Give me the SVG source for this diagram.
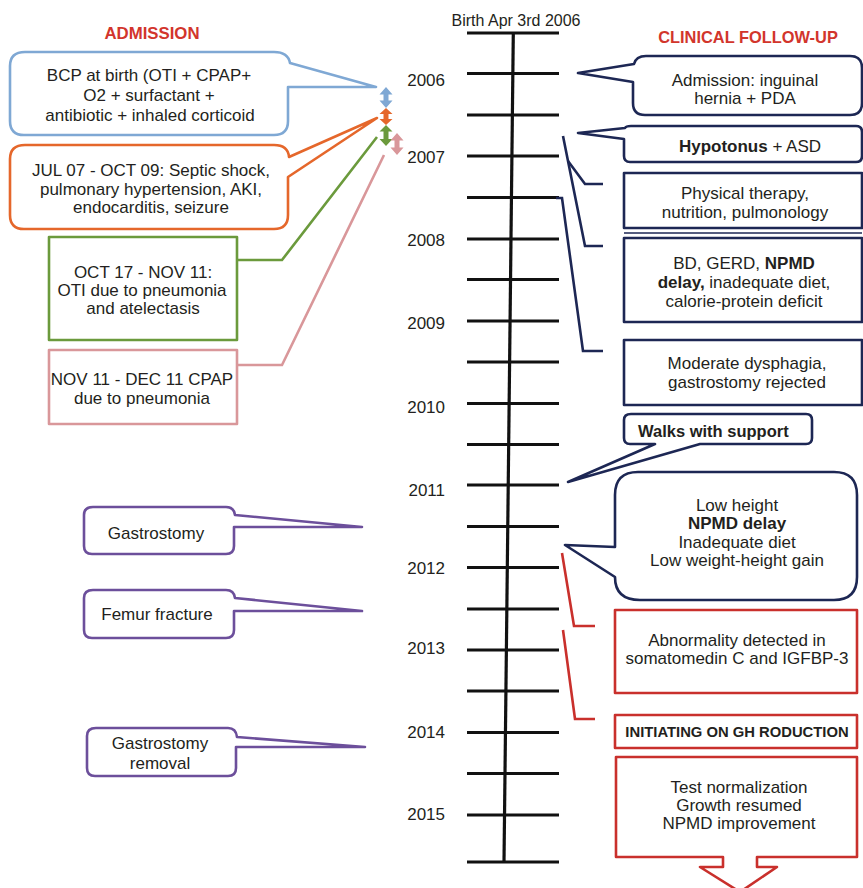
<svg xmlns="http://www.w3.org/2000/svg" width="863" height="888" viewBox="0 0 863 888">
<style>
  text { font-family: "Liberation Sans", Arial, sans-serif; font-size: 17px; fill: #231f20; }
  .c { text-anchor: middle; }
  .b { font-weight: bold; }
  .yr { text-anchor: end; }
  .title { font-weight: bold; fill: #d2352c; text-anchor: middle; }
  .box { fill: #ffffff; stroke-width: 2.6; stroke-linejoin: round; }
  .blue { stroke: #7fa8d4; }
  .orange { stroke: #e5672b; }
  .green { stroke: #6b9a3c; }
  .pink { stroke: #d9979a; }
  .purple { stroke: #6c4f9b; }
  .navy { stroke: #1d2754; }
  .red { stroke: #c9302c; }
  .line { fill: none; stroke-width: 2.6; stroke-linejoin: miter; }
  .tick { stroke: #111; stroke-width: 3.2; }
</style>
<rect width="863" height="888" fill="#ffffff"/>

<text class="title" x="152" y="39" style="font-size:16.8px">ADMISSION</text>
<text class="title" x="748" y="43" style="font-size:16.4px">CLINICAL FOLLOW-UP</text>

<g id="timeline">
  <text class="c" x="516" y="26" style="font-size:16px">Birth Apr 3rd 2006</text>
  <line class="tick" x1="513.3" y1="33" x2="504" y2="862"/>
  <g class="tick">
    <line x1="467" y1="33" x2="559" y2="33"/>
    <line x1="467" y1="73.5" x2="559" y2="73.5"/>
    <line x1="467" y1="115" x2="559" y2="115"/>
    <line x1="467" y1="156" x2="559" y2="156"/>
    <line x1="467" y1="197.5" x2="559" y2="197.5"/>
    <line x1="467" y1="239" x2="559" y2="239"/>
    <line x1="467" y1="279.5" x2="559" y2="279.5"/>
    <line x1="467" y1="321" x2="559" y2="321"/>
    <line x1="467" y1="362" x2="559" y2="362"/>
    <line x1="467" y1="403.5" x2="559" y2="403.5"/>
    <line x1="467" y1="444.5" x2="559" y2="444.5"/>
    <line x1="467" y1="485" x2="559" y2="485"/>
    <line x1="467" y1="526.5" x2="559" y2="526.5"/>
    <line x1="467" y1="567.5" x2="559" y2="567.5"/>
    <line x1="467" y1="609" x2="559" y2="609"/>
    <line x1="467" y1="650" x2="559" y2="650"/>
    <line x1="467" y1="691" x2="559" y2="691"/>
    <line x1="467" y1="732.5" x2="559" y2="732.5"/>
    <line x1="467" y1="773.5" x2="559" y2="773.5"/>
    <line x1="467" y1="815" x2="559" y2="815"/>
    <line x1="467" y1="862" x2="559" y2="862"/>
  </g>
  <text class="yr" x="445" y="86">2006</text>
  <text class="yr" x="445" y="162.5">2007</text>
  <text class="yr" x="445" y="246">2008</text>
  <text class="yr" x="445" y="329">2009</text>
  <text class="yr" x="445" y="412.5">2010</text>
  <text class="yr" x="445" y="496">2011</text>
  <text class="yr" x="445" y="574">2012</text>
  <text class="yr" x="445" y="654">2013</text>
  <text class="yr" x="445" y="737.5">2014</text>
  <text class="yr" x="445" y="820">2015</text>
</g>

<g id="connectors">
  <polyline class="line green" points="237,260 282,260 377,137"/>
  <polyline class="line pink" points="237,365 282,365 384,155"/>
  <polyline class="line navy" points="563,136 585,246 603,246"/>
  <polyline class="line navy" points="568,161 585,184 603,184"/>
  <polyline class="line navy" points="556,198 562,198 583,351 603,351"/>
  <polyline class="line red" points="562,553 574,626 595,626"/>
  <polyline class="line red" points="563,630 575,719 595,719"/>
</g>

<g id="period-arrows">
  <polygon fill="#7fa8d4" points="386,87 379.5,94.5 383.5,94.5 383.5,100.5 379.5,100.5 386,108 392.5,100.5 388.5,100.5 388.5,94.5 392.5,94.5"/>
  <polygon fill="#e5672b" points="386,108 379.5,114 383.5,114 383.5,119 379.5,119 386,125 392.5,119 388.5,119 388.5,114 392.5,114"/>
  <polygon fill="#6b9a3c" points="386,125 379.5,131.5 383.5,131.5 383.5,139 379.5,139 386,146 392.5,139 388.5,139 388.5,131.5 392.5,131.5"/>
  <polygon fill="#d9979a" points="397,133 390.5,140.5 394.5,140.5 394.5,147.5 390.5,147.5 397,155 403.5,147.5 399.5,147.5 399.5,140.5 403.5,140.5"/>
</g>

<g id="bcp-at-birth">
  <path class="box blue" d="M25,52 H274 Q288,52 290,63 L376,87 L288,87 V121 Q288,135 274,135 H24 Q10,135 10,121 V66 Q10,52 25,52 Z"/>
  <text class="c" x="149" y="81">BCP at birth (OTI + CPAP+</text>
  <text class="c" x="149" y="101">O2 + surfactant +</text>
  <text class="c" x="150" y="121">antibiotic + inhaled corticoid</text>
</g>

<g id="septic-shock">
  <path class="box orange" d="M25,145 H274 Q288,145 289,157 L377,118 L288,177 V215 Q288,229 274,229 H24 Q10,229 10,215 V159 Q10,145 25,145 Z"/>
  <text class="c" x="151" y="176">JUL 07 - OCT 09: Septic shock,</text>
  <text class="c" x="151" y="194.5">pulmonary hypertension, AKI,</text>
  <text class="c" x="151" y="213">endocarditis, seizure</text>
</g>

<g id="oti-pneumonia">
  <rect class="box green" x="49" y="237" width="188" height="103"/>
  <text class="c" x="143" y="278">OCT 17 - NOV 11:</text>
  <text class="c" x="142" y="296">OTI due to pneumonia</text>
  <text class="c" x="143" y="314">and atelectasis</text>
</g>

<g id="cpap-pneumonia">
  <rect class="box pink" x="49" y="350" width="188" height="74"/>
  <text class="c" x="142" y="385">NOV 11 - DEC 11 CPAP</text>
  <text class="c" x="142" y="404">due to pneumonia</text>
</g>

<g id="gastrostomy">
  <path class="box purple" d="M93,507 H226 Q234,507 235,515 L362,527 L234,527 V546 Q234,554 226,554 H92 Q84,554 84,546 V515 Q84,507 93,507 Z"/>
  <text class="c" x="156" y="539">Gastrostomy</text>
</g>

<g id="femur-fracture">
  <path class="box purple" d="M93,590 H226 Q234,590 235,598 L362,611 L234,611 V630 Q234,638 226,638 H92 Q84,638 84,630 V598 Q84,590 93,590 Z"/>
  <text class="c" x="157" y="620">Femur fracture</text>
</g>

<g id="gastrostomy-removal">
  <path class="box purple" d="M96,728 H228 Q236,728 237,737 L365,747 L236,747 V768 Q236,776 228,776 H95 Q87,776 87,768 V736 Q87,728 96,728 Z"/>
  <text class="c" x="160" y="749">Gastrostomy</text>
  <text class="c" x="160" y="769">removal</text>
</g>

<g id="admission-hernia">
  <path class="box navy" d="M646,56 H850 Q862,56 862,68 V103 Q862,115 850,115 H645 Q633,115 633,103 V82 L578,73 L634,64 Q636,56 646,56 Z"/>
  <text class="c" x="745" y="86">Admission: inguinal</text>
  <text class="c" x="745" y="104">hernia + PDA</text>
</g>

<g id="hypotonus">
  <path class="box navy" d="M631,126 H856 Q862,126 862,132 V156 Q862,162 856,162 H630 Q624,162 624,156 V139 L578,133 L625,128 Q626,126 631,126 Z"/>
  <text class="c" x="750" y="152"><tspan class="b">Hypotonus</tspan> + ASD</text>
</g>

<g id="physical-therapy">
  <rect class="box navy" x="624" y="173" width="238" height="55"/>
  <line class="navy" x1="624" y1="233" x2="862" y2="233" stroke-width="1.5"/>
  <text class="c" x="745" y="199">Physical therapy,</text>
  <text class="c" x="745" y="218">nutrition, pulmonology</text>
</g>

<g id="bd-gerd">
  <rect class="box navy" x="624" y="238" width="238" height="84"/>
  <text class="c" x="744" y="269">BD, GERD, <tspan class="b">NPMD</tspan></text>
  <text class="c" x="744" y="288"><tspan class="b">delay,</tspan> inadequate diet,</text>
  <text class="c" x="744" y="306.5">calorie-protein deficit</text>
</g>

<g id="moderate-dysphagia">
  <rect class="box navy" x="624" y="340" width="238" height="65"/>
  <text class="c" x="747" y="369">Moderate dysphagia,</text>
  <text class="c" x="747" y="388">gastrostomy rejected</text>
</g>

<g id="walks-with-support">
  <path class="box navy" d="M631,414 H806 Q812,414 812,420 V438 Q812,444 806,444 H700 L568,482 L655,444 H630 Q624,444 624,438 V420 Q624,414 631,414 Z"/>
  <text class="b" x="638" y="437" style="font-size:16.5px">Walks with support</text>
</g>

<g id="low-height">
  <path class="box navy" d="M638,472 H834 Q857,472 857,495 V577 Q857,600 834,600 H640 Q615,600 615,577 L565,545 L615,547 V495 Q615,472 638,472 Z"/>
  <text class="c" x="737" y="511">Low height</text>
  <text class="c b" x="737" y="529">NPMD delay</text>
  <text class="c" x="737" y="548">Inadequate diet</text>
  <text class="c" x="737" y="566">Low weight-height gain</text>
</g>

<g id="abnormality">
  <rect class="box red" x="615" y="610" width="242" height="83"/>
  <text class="c" x="737" y="646">Abnormality detected in</text>
  <text class="c" x="737" y="664">somatomedin C and IGFBP-3</text>
</g>

<g id="initiating-gh">
  <rect class="box red" x="615" y="715" width="242" height="33"/>
  <text class="c b" x="737" y="737" style="font-size:14.8px">INITIATING ON GH RODUCTION</text>
</g>

<g id="test-normalization">
  <path class="box red" d="M616,757 H857 V857 H757 V867 H777 L740,892 L700,867 H723 V857 H616 Z"/>
  <text class="c" x="739" y="793">Test normalization</text>
  <text class="c" x="739" y="811">Growth resumed</text>
  <text class="c" x="739" y="829">NPMD improvement</text>
</g>
</svg>
